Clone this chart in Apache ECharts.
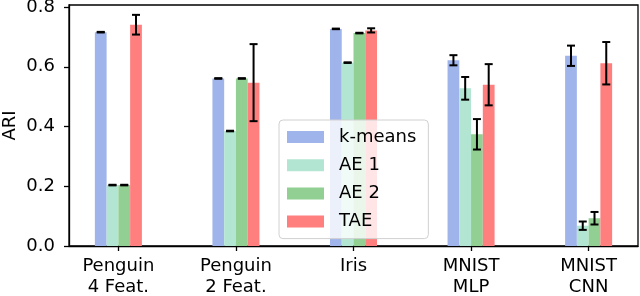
<!DOCTYPE html>
<html>
<head>
<meta charset="utf-8">
<script src="https://cdn.jsdelivr.net/npm/echarts@6/dist/echarts.min.js"></script>
<style>html,body{margin:0;padding:0;background:#fff}#c{width:640px;height:296px}</style>
</head>
<body>
<div id="c"></div>
<script>
const categories = ['Penguin\n4 Feat.', 'Penguin\n2 Feat.', 'Iris', 'MNIST\nMLP', 'MNIST\nCNN'];
const methods = ['k-means', 'AE 1', 'AE 2', 'TAE'];
const kmeans = [0.716, 0.561, 0.727, 0.622, 0.637];
const kmeansErr = [0.001, 0.001, 0.001, 0.017, 0.034];
const ae1 = [0.204, 0.385, 0.614, 0.528, 0.068];
const ae1Err = [0.001, 0.001, 0.001, 0.038, 0.014];
const ae2 = [0.204, 0.561, 0.713, 0.374, 0.093];
const ae2Err = [0.001, 0.001, 0.001, 0.051, 0.021];
const tae = [0.741, 0.547, 0.722, 0.540, 0.612];
const taeErr = [0.033, 0.129, 0.007, 0.069, 0.071];
const yTicks = [0, 0.2, 0.4, 0.6, 0.8];
const colors = ['#a0b4ec', '#b2e6d2', '#92cf92', '#ff7f7f'];

const values = [kmeans, ae1, ae2, tae];
const errs = [kmeansErr, ae1Err, ae2Err, taeErr];
const barW = 0.1;
const offsets = [-0.15, -0.05, 0.05, 0.15];
const FONT = 'DejaVu Sans';

const chart = echarts.init(document.getElementById('c'));

function makeSeries(k) {
  return {
    name: methods[k],
    type: 'custom',
    itemStyle: { color: colors[k] },
    data: values[k].map((v, i) => [i + offsets[k], v, errs[k][i]]),
    renderItem: function (params, api) {
      const x = api.value(0), y = api.value(1), e = api.value(2);
      const p0 = api.coord([x - barW / 2, y]);
      const p1 = api.coord([x + barW / 2, 0]);
      const top = api.coord([x, y + e]);
      const bot = api.coord([x, y - e]);
      const cx = (p0[0] + p1[0]) / 2;
      const capHalf = 4;
      const ls = { stroke: '#000', lineWidth: 2 };
      return {
        type: 'group',
        children: [
          { type: 'rect', shape: { x: p0[0], y: p0[1], width: p1[0] - p0[0], height: p1[1] - p0[1] }, style: { fill: colors[k] } },
          { type: 'line', z2: 10, shape: { x1: cx, y1: top[1], x2: cx, y2: bot[1] }, style: ls },
          { type: 'line', z2: 10, shape: { x1: cx - capHalf, y1: top[1], x2: cx + capHalf, y2: top[1] }, style: ls },
          { type: 'line', z2: 10, shape: { x1: cx - capHalf, y1: bot[1], x2: cx + capHalf, y2: bot[1] }, style: ls }
        ]
      };
    }
  };
}

chart.setOption({
  animation: false,
  textStyle: { fontFamily: FONT },
  grid: { left: 69, top: 5, right: 2, bottom: 50, containLabel: false, outerBoundsMode: 'none', show: true, borderColor: '#000', borderWidth: 1.3, backgroundColor: 'transparent' },
  legend: {
    orient: 'vertical',
    left: 279, top: 120,
    data: methods.map((m, k) => ({ name: m, icon: 'rect', itemStyle: { color: colors[k] } })),
    itemWidth: 37, itemHeight: 12, itemGap: 10.2,
    padding: [8, 12, 8, 8],
    backgroundColor: 'rgba(255,255,255,0.8)',
    borderColor: '#d0d0d0', borderWidth: 1, borderRadius: 4,
    textStyle: { fontSize: 18, fontFamily: FONT, color: '#000', lineHeight: 18, padding: [0, 0, 0, 10] },
    selectedMode: false
  },
  xAxis: {
    type: 'value', min: -0.42, max: 4.42,
    splitLine: { show: false },
    axisLine: { show: true, onZero: false, lineStyle: { color: '#000', width: 1.3 } },
    axisTick: { show: true, length: 5, lineStyle: { color: '#000', width: 1.3 }, customValues: [0, 1, 2, 3, 4] },
    axisLabel: { customValues: [0, 1, 2, 3, 4], formatter: v => categories[Math.round(v)], fontSize: 18, color: '#000', fontFamily: FONT, lineHeight: 21, margin: 10 }
  },
  yAxis: {
    type: 'value', min: 0, max: 0.807,
    name: 'ARI', nameLocation: 'middle', nameGap: 50, nameRotate: 90, nameMoveOverlap: false,
    nameTextStyle: { fontSize: 18, color: '#000', fontFamily: FONT },
    splitLine: { show: false },
    axisLine: { show: true, onZero: false, lineStyle: { color: '#000', width: 1.3 } },
    axisTick: { show: true, length: 5, lineStyle: { color: '#000', width: 1.3 }, customValues: yTicks },
    axisLabel: { customValues: yTicks, formatter: v => v.toFixed(1), fontSize: 18, color: '#000', fontFamily: FONT, margin: 14 }
  },
  series: [0, 1, 2, 3].map(makeSeries)
});
</script>
</body>
</html>
